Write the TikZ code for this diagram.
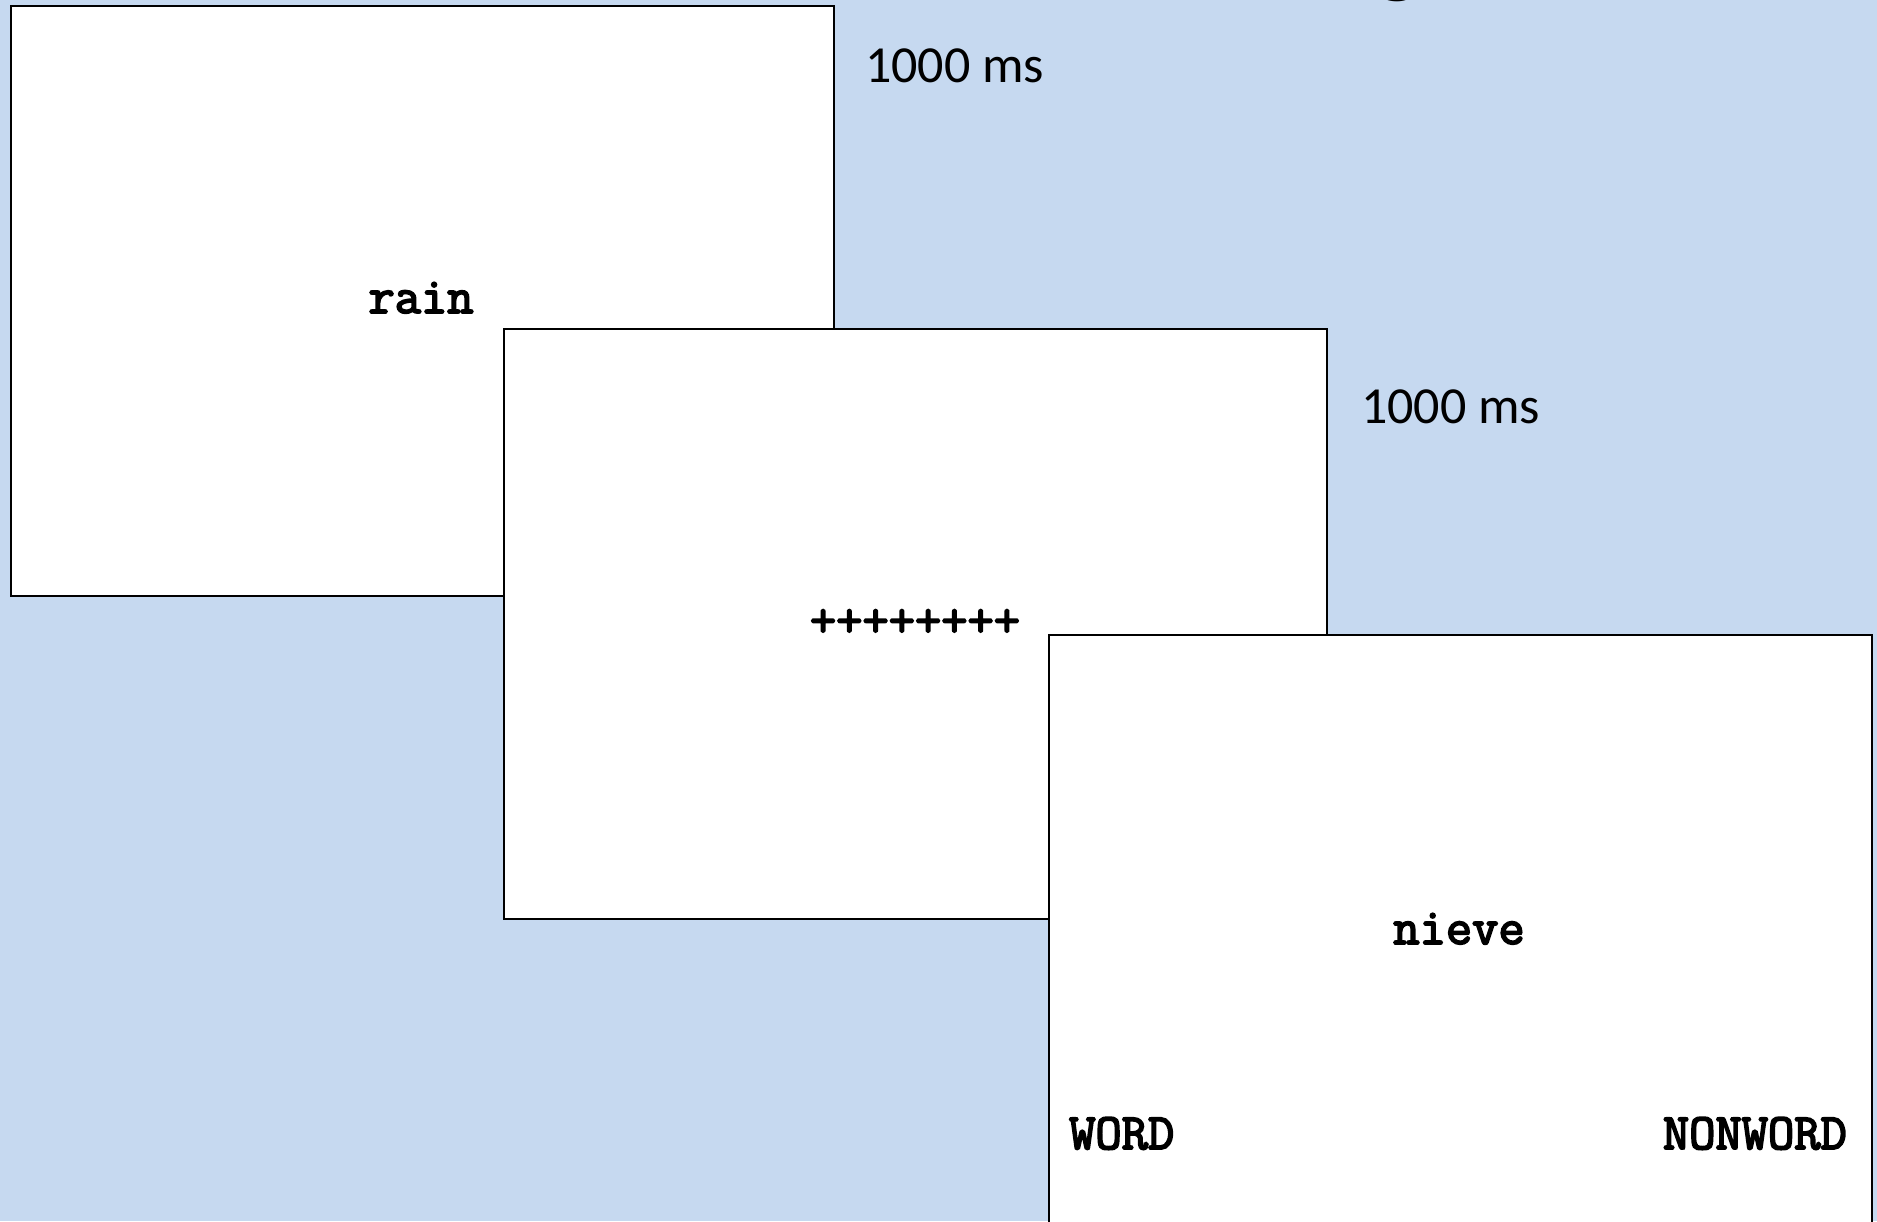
\documentclass[tikz,border=0pt]{standalone}
\usepackage{fontspec}
\setmainfont{Carlito}
\newfontfamily\stimfont{Latin Modern Mono}[AutoFakeBold=3.5]
\definecolor{bgblue}{RGB}{198,217,240}
\tikzset{
  screen/.style={draw=black, fill=white, line width=2pt},
  stim/.style={font=\stimfont\bfseries\fontsize{51}{54}\selectfont, inner sep=0pt},
  timing/.style={font=\fontsize{52}{56}\selectfont, inner sep=0pt, anchor=west},
}
\begin{document}
\begin{tikzpicture}[x=1pt,y=-1pt]
\useasboundingbox (0,0) rectangle (1877,1221);
\clip (0,0) rectangle (1877,1221);
\fill[bgblue] (0,0) rectangle (1877,1221);
% cut-off title descender
\node[inner sep=0pt, anchor=base, font=\fontsize{95}{100}\selectfont] (titleg) at (1398,-15) {g};
% screens
\node[screen, minimum width=823pt, minimum height=590pt, inner sep=0pt, anchor=north west] (s1) at (10,5) {};
\node[stim, anchor=base] (rain) at (421,313) {rain};
\node[timing] (t1) at (865,66) {1000 ms};
\node[screen, minimum width=823pt, minimum height=590pt, inner sep=0pt, anchor=north west] (s2) at (503,328) {};
\node[stim, anchor=center] (plus) at (915,623) {++++++++};
\node[timing] (t2) at (1361,407) {1000 ms};
\node[screen, minimum width=823pt, minimum height=590pt, inner sep=0pt, anchor=north west] (s3) at (1048,634) {};
\node[stim, anchor=base] (nieve) at (1459,944) {nieve};
\node[stim, anchor=base west] (word) at (1069,1149) {WORD};
\node[stim, anchor=base east] (nonword) at (1847,1149) {NONWORD};
\end{tikzpicture}
\end{document}
